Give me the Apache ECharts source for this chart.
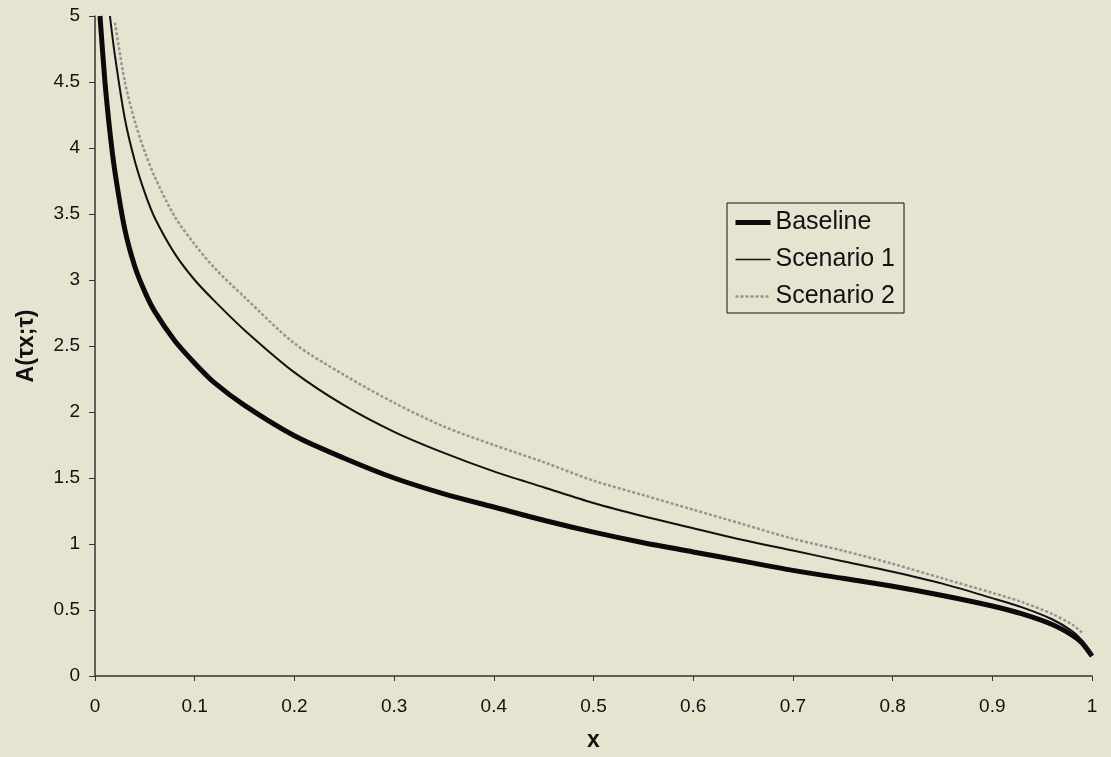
<!DOCTYPE html>
<html>
<head>
<meta charset="utf-8">
<script src="https://cdn.jsdelivr.net/npm/echarts@6/dist/echarts.min.js"></script>
<style>
  html, body { margin: 0; padding: 0; background: #e6e4d0; }
  #chart { width: 1111px; height: 757px; }
</style>
</head>
<body>
<div id="chart"></div>
<script>
// x grid shared by all three curves
const xs = [0.005, 0.01, 0.015, 0.02, 0.03, 0.04, 0.05, 0.06, 0.08, 0.1, 0.12, 0.15, 0.2, 0.25, 0.3, 0.35, 0.4, 0.45, 0.5, 0.55, 0.6, 0.65, 0.7, 0.75, 0.8, 0.85, 0.9, 0.93, 0.96, 0.98, 0.99, 1.0]

const baseline = [5.0, 4.5, 4.12, 3.82, 3.38, 3.1, 2.91, 2.76, 2.54, 2.37, 2.22, 2.05, 1.82, 1.65, 1.5, 1.38, 1.28, 1.18, 1.09, 1.01, 0.94, 0.87, 0.8, 0.74, 0.68, 0.61, 0.53, 0.47, 0.39, 0.31, 0.25, 0.15]
const scenario1 = [null, null, 5.0, 4.7, 4.22, 3.9, 3.66, 3.47, 3.2, 3.0, 2.84, 2.62, 2.3, 2.05, 1.85, 1.69, 1.55, 1.43, 1.31, 1.21, 1.12, 1.03, 0.95, 0.87, 0.79, 0.7, 0.59, 0.52, 0.43, 0.34, 0.27, 0.17]
const scenario2 = [null, null, null, 4.95, 4.5, 4.2, 3.97, 3.78, 3.48, 3.27, 3.09, 2.87, 2.52, 2.28, 2.07, 1.89, 1.75, 1.62, 1.48, 1.37, 1.26, 1.15, 1.04, 0.95, 0.85, 0.74, 0.63, 0.56, 0.47, 0.39, 0.33, null]

const seriesNames = ['Baseline', 'Scenario 1', 'Scenario 2']

function pairs(ys) {
  const out = []
  xs.forEach((x, i) => { if (ys[i] != null) out.push([x, ys[i]]) })
  return out
}

const chart = echarts.init(document.getElementById('chart'))
const font = 'Liberation Sans, Arial, sans-serif'
const grey = '#959590'

chart.setOption({
  backgroundColor: '#e6e4d0',
  animation: false,
  textStyle: { fontFamily: font },
  grid: { left: 95, right: 19, top: 16, bottom: 81 },
  legend: {
    orient: 'vertical',
    left: 727,
    top: 203,
    padding: [7, 9, 4, 6],
    itemGap: 12,
    itemWidth: 35,
    itemHeight: 8,
    borderColor: '#111',
    borderWidth: 1,
    itemStyle: { color: 'rgba(0,0,0,0)', borderWidth: 0 },
    textStyle: { fontSize: 25, color: '#111', fontFamily: font },
    data: [
      { name: seriesNames[0], lineStyle: { width: 5, color: '#0a0a0a' } },
      { name: seriesNames[1], lineStyle: { width: 1.5, color: '#111' } },
      { name: seriesNames[2], lineStyle: { width: 2.5, color: grey, type: [3, 2] } }
    ]
  },
  xAxis: {
    type: 'value',
    min: 0,
    max: 1,
    interval: 0.1,
    name: 'x',
    nameLocation: 'middle',
    nameGap: 53,
    nameTextStyle: { fontSize: 23, fontWeight: 'bold', color: '#111' },
    axisLine: { lineStyle: { color: '#333', width: 1.5 } },
    axisTick: { show: true, length: 5, lineStyle: { color: '#333' } },
    axisLabel: { fontSize: 19, color: '#111', margin: 21 },
    splitLine: { show: false }
  },
  yAxis: {
    type: 'value',
    min: 0,
    max: 5,
    interval: 0.5,
    name: 'A(τx;τ)',
    nameLocation: 'middle',
    nameGap: 57,
    nameTextStyle: { fontSize: 23, fontWeight: 'bold', color: '#111' },
    axisLine: { show: true, lineStyle: { color: '#333', width: 1.5 } },
    axisTick: { show: true, length: 6, lineStyle: { color: '#333' } },
    axisLabel: { fontSize: 19, color: '#111', margin: 15 },
    splitLine: { show: false }
  },
  series: [
    {
      name: 'Baseline',
      type: 'line',
      smooth: 0.3,
      symbol: 'none',
      lineStyle: { color: '#0a0a0a', width: 5 },
      itemStyle: { color: '#0a0a0a' },
      data: pairs(baseline)
    },
    {
      name: 'Scenario 1',
      type: 'line',
      smooth: 0.3,
      symbol: 'none',
      lineStyle: { color: '#111', width: 2 },
      itemStyle: { color: '#111' },
      data: pairs(scenario1)
    },
    {
      name: 'Scenario 2',
      type: 'line',
      smooth: 0.3,
      symbol: 'none',
      lineStyle: { color: grey, width: 2.5, type: [3, 2] },
      itemStyle: { color: grey },
      data: pairs(scenario2)
    }
  ]
})
</script>
</body>
</html>
